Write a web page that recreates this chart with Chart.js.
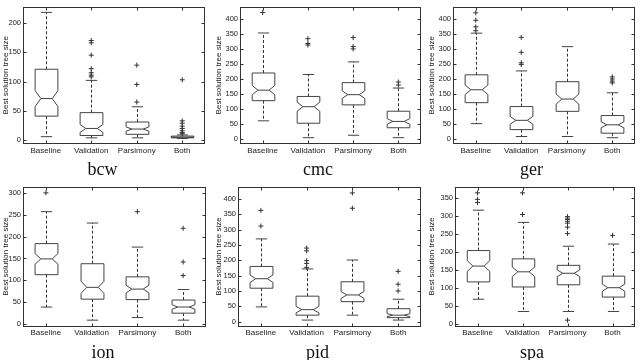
<!DOCTYPE html>
<html>
<head>
<meta charset="utf-8">
<script src="https://cdn.jsdelivr.net/npm/chart.js@4.4.0/dist/chart.umd.min.js"></script>
<style>
  html, body { margin: 0; padding: 0; background: #fff; }
  #wrap { position: relative; width: 640px; height: 360px; overflow: hidden; }
  #wrap canvas { position: absolute; }
</style>
</head>
<body>
<div id="wrap"></div>
<script>
const categories = ['Baseline', 'Validation', 'Parsimony', 'Both'];

// bcw
const bcwLow = [6, 4, 4, 3];
const bcwQ1 = [41, 8, 10, 4];
const bcwMed = [71, 20, 19, 5];
const bcwQ3 = [121, 47, 31, 7];
const bcwHigh = [218, 102, 57, 9];
const bcwOutliers = [[], [170, 166, 145, 122, 115, 111, 108], [128, 95, 65], [103, 33, 29, 24, 20, 16, 13, 11]];
const bcwTicks = [0, 50, 100, 150, 200];

// cmc
const cmcLow = [61, 5, 13, 5];
const cmcQ1 = [128, 53, 114, 38];
const cmcMed = [163, 108, 148, 59];
const cmcQ3 = [220, 142, 188, 93];
const cmcHigh = [353, 215, 257, 170];
const cmcOutliers = [[421], [334, 318, 313], [338, 308, 300], [190, 180]];
const cmcTicks = [0, 50, 100, 150, 200, 250, 300, 350, 400];

// ger
const gerLow = [50, 7, 7, 3];
const gerQ1 = [120, 30, 91, 18];
const gerMed = [163, 61, 132, 46];
const gerQ3 = [213, 107, 190, 77];
const gerHigh = [352, 226, 307, 153];
const gerOutliers = [[420, 395, 373, 360], [338, 288, 253, 247], [], [206, 199, 192, 186]];
const gerTicks = [0, 50, 100, 150, 200, 250, 300, 350, 400];

// ion
const ionLow = [39, 9, 15, 9];
const ionQ1 = [113, 57, 56, 25];
const ionMed = [149, 84, 80, 39];
const ionQ3 = [184, 138, 108, 55];
const ionHigh = [257, 231, 176, 79];
const ionOutliers = [[300], [], [257], [219, 142, 111]];
const ionTicks = [0, 50, 100, 150, 200, 250, 300];

// pid
const pidLow = [48, 5, 21, 5];
const pidQ1 = [109, 21, 65, 13];
const pidMed = [140, 39, 87, 21];
const pidQ3 = [180, 83, 130, 42];
const pidHigh = [270, 172, 201, 73];
const pidOutliers = [[363, 312], [240, 231, 199, 190, 177], [420, 370], [164, 122, 100]];
const pidTicks = [0, 50, 100, 150, 200, 250, 300, 350, 400];

// spa
const spaLow = [69, 35, 35, 35];
const spaQ1 = [117, 103, 109, 75];
const spaMed = [161, 145, 141, 101];
const spaQ3 = [204, 181, 163, 133];
const spaHigh = [316, 282, 216, 222];
const spaOutliers = [[364, 346, 337], [364, 304], [298, 294, 290, 285, 280, 269, 251, 11], [246]];
const spaTicks = [0, 50, 100, 150, 200, 250, 300, 350];

// samples per box, used for the notch width
const sampleCount = 85;

const panels = [
  { name: 'bcw', low: bcwLow, q1: bcwQ1, med: bcwMed, q3: bcwQ3, high: bcwHigh, outliers: bcwOutliers, ticks: bcwTicks, min: -6.5, max: 228 },
  { name: 'cmc', low: cmcLow, q1: cmcQ1, med: cmcMed, q3: cmcQ3, high: cmcHigh, outliers: cmcOutliers, ticks: cmcTicks, min: -16, max: 441 },
  { name: 'ger', low: gerLow, q1: gerQ1, med: gerMed, q3: gerQ3, high: gerHigh, outliers: gerOutliers, ticks: gerTicks, min: -18, max: 441 },
  { name: 'ion', low: ionLow, q1: ionQ1, med: ionMed, q3: ionQ3, high: ionHigh, outliers: ionOutliers, ticks: ionTicks, min: -5.5, max: 314.5 },
  { name: 'pid', low: pidLow, q1: pidQ1, med: pidMed, q3: pidQ3, high: pidHigh, outliers: pidOutliers, ticks: pidTicks, min: -16, max: 441 },
  { name: 'spa', low: spaLow, q1: spaQ1, med: spaMed, q3: spaQ3, high: spaHigh, outliers: spaOutliers, ticks: spaTicks, min: -6.6, max: 381.6 },
];

// canvas placement and plot area (local px)
const frames = [
  { x: 0,   y: 0,   w: 213, left: 23, right: 205, top: 1, bottom: 144, titlePad: 3.7, xPad: 2 },
  { x: 213, y: 0,   w: 213, left: 27, right: 210, top: 1, bottom: 144, titlePad: 3.7, xPad: 2 },
  { x: 426, y: 0,   w: 214, left: 27, right: 211, top: 1, bottom: 144, titlePad: 3.7, xPad: 2 },
  { x: 0,   y: 180, w: 213, left: 23, right: 206, top: 3, bottom: 146.5, titlePad: 0.7, xPad: 1 },
  { x: 213, y: 180, w: 213, left: 25, right: 209, top: 3, bottom: 146.5, titlePad: 0.7, xPad: 1 },
  { x: 426, y: 180, w: 214, left: 29, right: 212, top: 3, bottom: 146.5, titlePad: 0.7, xPad: 1 },
];
const H = 180;
const titleSize = 18, titleLH = 0.7;

function boxPlugin(p) {
  return {
    id: 'notchedBoxes',
    beforeDatasetsDraw(chart) {
      const { ctx, scales: { x, y } } = chart;
      const hw = (x.getPixelForValue(2) - x.getPixelForValue(1)) * 0.25;
      ctx.save();
      ctx.lineWidth = 1;
      categories.forEach((c, i) => {
        const cx = Math.round(x.getPixelForValue(i + 1)) + 0.5;
        const notch = 1.57 * (p.q3[i] - p.q1[i]) / Math.sqrt(sampleCount);
        const py = v => y.getPixelForValue(v);
        const yLow = py(p.low[i]), yHigh = py(p.high[i]);
        const yQ1 = py(p.q1[i]), yQ3 = py(p.q3[i]), yMed = py(p.med[i]);
        const yNl = py(p.med[i] - notch), yNh = py(p.med[i] + notch);

        ctx.strokeStyle = '#333';
        ctx.setLineDash([3, 2]);
        ctx.beginPath();
        ctx.moveTo(cx, yQ3); ctx.lineTo(cx, yHigh);
        ctx.moveTo(cx, yQ1); ctx.lineTo(cx, yLow);
        ctx.stroke();
        ctx.setLineDash([]);

        ctx.strokeStyle = '#444';
        ctx.beginPath();
        ctx.moveTo(cx - hw / 2, yHigh); ctx.lineTo(cx + hw / 2, yHigh);
        ctx.moveTo(cx - hw / 2, yLow); ctx.lineTo(cx + hw / 2, yLow);
        ctx.stroke();

        ctx.beginPath();
        ctx.moveTo(cx - hw, yQ3);
        ctx.lineTo(cx - hw, yNh);
        ctx.lineTo(cx - hw / 2, yMed);
        ctx.lineTo(cx - hw, yNl);
        ctx.lineTo(cx - hw, yQ1);
        ctx.lineTo(cx + hw, yQ1);
        ctx.lineTo(cx + hw, yNl);
        ctx.lineTo(cx + hw / 2, yMed);
        ctx.lineTo(cx + hw, yNh);
        ctx.lineTo(cx + hw, yQ3);
        ctx.closePath();
        ctx.moveTo(cx - hw / 2, yMed); ctx.lineTo(cx + hw / 2, yMed);
        ctx.stroke();
      });
      ctx.restore();
    },
    afterDatasetsDraw(chart) {
      const { ctx, chartArea: a, scales: { x, y } } = chart;
      const l = Math.round(a.left) + 0.5, r = Math.round(a.right) - 0.5;
      const t = Math.round(a.top) + 0.5, b = Math.round(a.bottom) - 0.5;
      ctx.save();
      ctx.strokeStyle = '#333';
      ctx.lineWidth = 1;
      ctx.strokeRect(l, t, r - l, b - t);
      ctx.beginPath();
      y.ticks.forEach(tk => {
        const ty = Math.round(y.getPixelForValue(tk.value)) + 0.5;
        ctx.moveTo(l, ty); ctx.lineTo(l + 3, ty);
        ctx.moveTo(r, ty); ctx.lineTo(r - 3, ty);
      });
      x.ticks.forEach(tk => {
        const tx = Math.round(x.getPixelForValue(tk.value)) + 0.5;
        ctx.moveTo(tx, b); ctx.lineTo(tx, b - 3);
        ctx.moveTo(tx, t); ctx.lineTo(tx, t + 3);
      });
      ctx.stroke();
      ctx.restore();
    }
  };
}

const wrap = document.getElementById('wrap');
panels.forEach((p, k) => {
  const f = frames[k];
  const canvas = document.createElement('canvas');
  canvas.width = f.w; canvas.height = H;
  canvas.style.left = f.x + 'px'; canvas.style.top = f.y + 'px';
  canvas.style.width = f.w + 'px'; canvas.style.height = H + 'px';
  wrap.appendChild(canvas);

  const titleTop = H - f.titlePad - titleSize * titleLH;
  const points = [];
  p.outliers.forEach((list, i) => list.forEach(v => points.push({ x: i + 1, y: v })));

  new Chart(canvas, {
    type: 'scatter',
    data: {
      datasets: [{
        data: points,
        pointStyle: 'cross',
        radius: 2.5,
        borderColor: '#333',
        backgroundColor: '#333',
        borderWidth: 1,
      }]
    },
    options: {
      responsive: false,
      animation: false,
      devicePixelRatio: 1,
      layout: { padding: { left: 0, top: f.top, right: f.w - f.right, bottom: 0 } },
      plugins: {
        legend: { display: false },
        tooltip: { enabled: false },
        title: {
          display: true,
          text: p.name,
          position: 'bottom',
          color: '#111',
          font: { family: '"Liberation Serif", "DejaVu Serif", serif', size: titleSize, weight: 'normal', lineHeight: titleLH },
          padding: { top: 0, bottom: f.titlePad },
        },
      },
      scales: {
        x: {
          type: 'linear',
          min: 0.5,
          max: 4.5,
          afterBuildTicks: s => { s.ticks = categories.map((c, i) => ({ value: i + 1 })); },
          afterFit: s => { s.height = titleTop - f.bottom; },
          grid: { display: false, drawTicks: false },
          border: { display: false },
          ticks: {
            padding: f.xPad,
            autoSkip: false,
            maxRotation: 0,
            color: '#222',
            font: { family: '"Liberation Sans", Arial, sans-serif', size: 8 },
            callback: v => categories[v - 1],
          },
        },
        y: {
          min: p.min,
          max: p.max,
          afterBuildTicks: s => { s.ticks = p.ticks.map(v => ({ value: v })); },
          afterFit: s => { s.width = f.left; },
          grid: { display: false, drawTicks: false },
          border: { display: false },
          ticks: {
            padding: 2,
            color: '#222',
            font: { family: '"Liberation Sans", Arial, sans-serif', size: 7.5 },
          },
          title: {
            display: true,
            text: 'Best solution tree size',
            color: '#222',
            font: { family: '"Liberation Sans", Arial, sans-serif', size: 8 },
            padding: { top: 1, bottom: 0 },
          },
        },
      },
    },
    plugins: [boxPlugin(p)],
  });
});
</script>
</body>
</html>
